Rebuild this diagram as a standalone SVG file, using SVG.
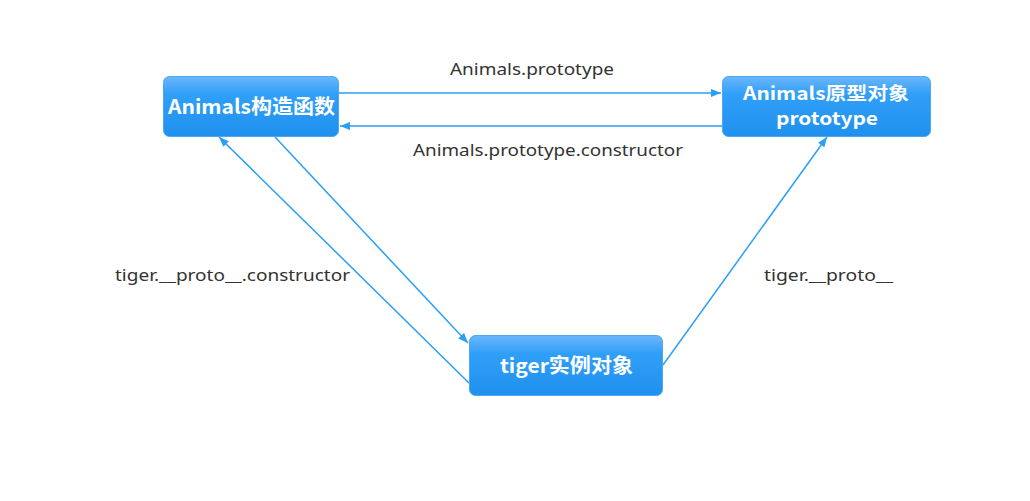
<svg xmlns="http://www.w3.org/2000/svg" width="1030" height="501" viewBox="0 0 1030 501">
<defs>
<linearGradient id="g" x1="0" y1="0" x2="0" y2="1">
<stop offset="0" stop-color="#6cb6fb"/>
<stop offset="0.3" stop-color="#2f9ff8"/>
<stop offset="1" stop-color="#2090ee"/>
</linearGradient>
<marker id="ah" markerWidth="10" markerHeight="8" refX="10" refY="4" orient="auto" markerUnits="userSpaceOnUse">
<path d="M0,0 L10,4 L0,8 Z" fill="#2b9ff5"/>
</marker>
<style>
.box{fill:url(#g);stroke:#4aa8f4;stroke-width:1}
.nt{font-family:"Noto Sans CJK SC","Noto Sans",sans-serif;font-weight:bold;font-size:20px;fill:#fff;text-anchor:middle}
.nt2{font-size:18px}
.lb{font-family:"Noto Sans","Noto Sans CJK SC",sans-serif;font-size:17px;fill:#333;text-anchor:middle}
.c{stroke:#2b9ff5;stroke-width:1.5;fill:none;marker-end:url(#ah)}
</style>
</defs>
<rect width="1030" height="501" fill="#fff"/>
<g id="connectors">
<line class="c" x1="339" y1="93" x2="721" y2="93"/>
<line class="c" x1="722" y1="126" x2="340" y2="126"/>
<line class="c" x1="275" y1="137" x2="468" y2="343"/>
<line class="c" x1="469" y1="383" x2="219" y2="137"/>
<line class="c" x1="663" y1="365" x2="827" y2="137"/>
</g>
<g id="labels">
<text class="lb" x="532" y="75" textLength="164" lengthAdjust="spacingAndGlyphs">Animals.prototype</text>
<text class="lb" x="548" y="156" textLength="270" lengthAdjust="spacingAndGlyphs">Animals.prototype.constructor</text>
<text class="lb" x="232.5" y="281" textLength="235" lengthAdjust="spacingAndGlyphs">tiger.__proto__.constructor</text>
<text class="lb" x="828.5" y="281" textLength="129" lengthAdjust="spacingAndGlyphs">tiger.__proto__</text>
</g>
<g id="n1">
<rect class="box" x="163.5" y="76.5" width="175" height="60" rx="6"/>
<text class="nt" x="251.5" y="114" textLength="167" lengthAdjust="spacingAndGlyphs">Animals构造函数</text>
</g>
<g id="n2">
<rect class="box" x="722.5" y="76.5" width="208" height="60" rx="6"/>
<text class="nt nt2" x="826" y="100" textLength="166" lengthAdjust="spacingAndGlyphs">Animals原型对象</text>
<text class="nt nt2" x="827" y="125" textLength="102" lengthAdjust="spacingAndGlyphs">prototype</text>
</g>
<g id="n3">
<rect class="box" x="469.5" y="335.5" width="193" height="60" rx="6"/>
<text class="nt" x="566.5" y="373" textLength="133" lengthAdjust="spacingAndGlyphs">tiger实例对象</text>
</g>
</svg>
